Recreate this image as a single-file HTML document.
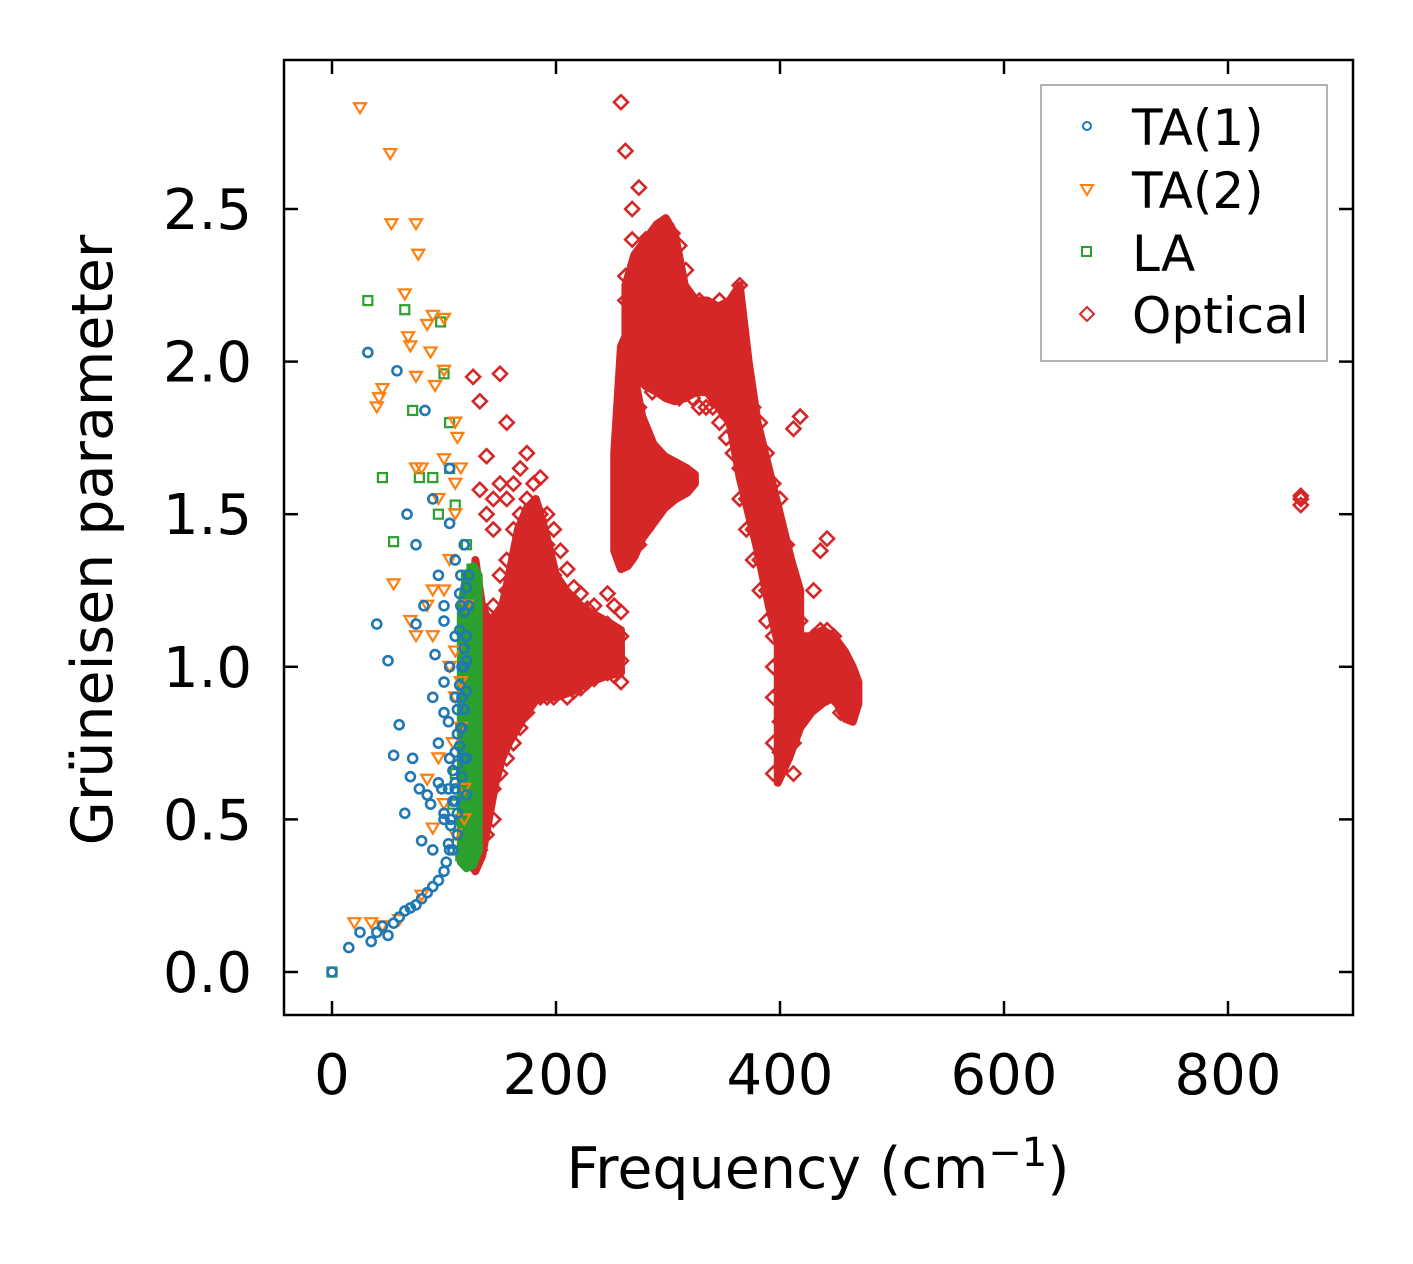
<!DOCTYPE html>
<html><head><meta charset="utf-8">
<style>
html,body{margin:0;padding:0;background:#fff;}
svg{display:block;font-family:"DejaVu Sans","Liberation Sans",sans-serif;}
</style></head>
<body>
<svg id="chart" width="1413" height="1264" viewBox="0 0 1413 1264" xmlns="http://www.w3.org/2000/svg">
<rect width="1413" height="1264" fill="#fff"/>
<g id="marks"></g>
<rect x="284" y="60" width="1069" height="955" fill="none" stroke="#000" stroke-width="2.5"/>
<g id="ticks"></g>
<text x="818" y="1188" font-size="57" text-anchor="middle">Frequency (cm<tspan dy="-22" font-size="40">−1</tspan><tspan dy="22">)</tspan></text>
<text transform="translate(112,540) rotate(-90)" font-size="57" text-anchor="middle">Grüneisen parameter</text>
<g>
<rect x="1041" y="85" width="286" height="276" fill="#fff" stroke="#999" stroke-width="1.5"/>
<circle cx="1087" cy="126" r="4" fill="none" stroke="#1f77b4" stroke-width="2"/>
<text x="1132" y="145" font-size="50">TA(1)</text>
<path d="M1081,185 L1093,185 L1087,195 Z" fill="none" stroke="#ff7f0e" stroke-width="2"/>
<text x="1132" y="208" font-size="50">TA(2)</text>
<rect x="1082" y="247" width="9" height="9" fill="none" stroke="#2ca02c" stroke-width="2"/>
<text x="1132" y="271" font-size="50">LA</text>
<path d="M1087,307 L1094,314 L1087,321 L1080,314 Z" fill="none" stroke="#d62728" stroke-width="2"/>
<text x="1132" y="333" font-size="50">Optical</text>
</g>
</svg>
<script>
const xTicks=[0,200,400,600,800];
const yTicks=[0,0.5,1.0,1.5,2.0,2.5];
const yTickLabels=["0.0","0.5","1.0","1.5","2.0","2.5"];
const ta1F=[0,15,25,35,40,45,50,55,60,65,70,75,80,85,90,95,100,105,32,58,83,40,50,60,55,70,72,65,80,85,78,90,88,95,100,95,90,92,82,75,75,67,90,95,100,105,105,110,110,105,100,105,110,110,115,115,115,118,118,120,120,112,100,100,
  102,104,106,108,110,112,114,116,118,120,104,108,112,116,120,106,110,114,118,122,108,112,116,120,110,114,118,122,112,116,120,114,118,100,98,104];
const ta1G=[0,0.08,0.13,0.1,0.13,0.15,0.12,0.16,0.18,0.2,0.21,0.22,0.24,0.26,0.28,0.3,0.33,0.4,2.03,1.97,1.84,1.14,1.02,0.81,0.71,0.64,0.7,0.52,0.43,0.58,0.6,0.4,0.55,0.62,0.5,0.75,0.9,1.04,1.2,1.14,1.4,1.5,1.55,1.3,1.2,1.47,1.65,1.35,1.1,1.0,0.85,0.7,0.6,0.9,1.3,1.2,0.8,1.4,1.0,1.1,0.7,0.45,0.95,1.15,
  0.36,0.42,0.5,0.56,0.62,0.68,0.74,0.8,0.86,0.92,0.6,0.66,0.78,0.9,1.02,0.48,0.56,0.94,1.06,1.2,0.4,0.86,1.0,1.26,0.72,1.12,1.18,1.3,0.52,0.64,0.58,1.24,0.7,0.52,0.6,0.82];
const ta2F=[25,52,53,75,77,65,68,85,90,100,88,70,75,45,40,42,100,92,110,112,100,80,75,110,95,110,55,70,75,90,85,90,100,105,110,95,85,90,100,110,118,20,35,45,60,80,115,115,105,110,115,120,108,118];
const ta2G=[2.83,2.68,2.45,2.45,2.35,2.22,2.08,2.12,2.15,2.14,2.03,2.05,1.95,1.91,1.85,1.88,1.97,1.92,1.8,1.75,1.68,1.65,1.65,1.6,1.55,1.5,1.27,1.15,1.1,1.1,1.2,1.25,1.25,1.0,0.9,0.7,0.63,0.47,0.55,0.45,0.5,0.16,0.16,0.15,0.17,0.25,0.8,1.65,1.35,1.05,0.95,1.2,0.75,0.6];
const laF=[32,65,97,100,72,105,45,78,90,105,55,95,110,120,120,125,125,120,118,120,118,120,118,120,115,112,108,110,0,115,122,125];
const laG=[2.2,2.17,2.13,1.96,1.84,1.8,1.62,1.62,1.62,1.65,1.41,1.5,1.53,1.4,1.3,1.32,1.25,1.2,1.1,1.0,0.9,0.8,0.7,0.6,0.5,0.42,0.55,0.65,0,0.38,0.95,1.15];
// dense LA region
const laBandF=[115,120,126,131];
const laBandLo=[0.36,0.34,0.35,0.4];
const laBandHi=[1.2,1.3,1.33,1.3];
// dense optical regions (frequency, lower and upper bounds)
const band1F=[128,134,140,146,152,158,166,174,182,190,200,215,230,245,258];
const band1Lo=[0.33,0.38,0.5,0.62,0.7,0.75,0.8,0.85,0.89,0.9,0.9,0.92,0.95,0.97,0.98];
const band1Hi=[1.35,1.2,1.15,1.17,1.2,1.3,1.45,1.52,1.55,1.45,1.3,1.22,1.18,1.15,1.12];
const band2F=[252,258,264,270,277,287,297,307,317,324];
const band2Lo=[1.38,1.32,1.33,1.36,1.42,1.47,1.52,1.55,1.57,1.6];
const band2Hi=[1.7,2.05,2.1,1.95,1.82,1.73,1.69,1.67,1.65,1.63];
const band3F=[262,270,280,290,298,306,315,325,335,345,355,364,372,380,390,400,410,418];
const band3Lo=[2.0,1.95,1.92,1.9,1.88,1.87,1.88,1.9,1.9,1.85,1.8,1.62,1.5,1.38,1.2,1.05,0.95,0.95];
const band3Hi=[2.25,2.35,2.4,2.45,2.47,2.42,2.25,2.2,2.2,2.18,2.2,2.25,2.0,1.8,1.65,1.5,1.35,1.25];
const band4F=[398,408,418,428,438,448,458,465,470];
const band4Lo=[0.62,0.7,0.8,0.85,0.88,0.9,0.83,0.82,0.88];
const band4Hi=[1.1,1.12,1.1,1.1,1.12,1.1,1.05,1.0,0.95];
const optCols=[
[120,[0.4,0.5,0.6,0.7,0.8,0.9,1.0,1.1]],
[126,[0.35,0.45,0.55,0.65,0.75,0.85,0.95,1.05,1.15,1.25,1.95]],
[132,[0.4,0.5,0.6,0.7,0.8,0.9,1.0,1.1,1.2,1.87,1.58]],
[138,[0.45,0.55,0.65,0.75,0.85,0.95,1.05,1.15,1.5,1.69]],
[144,[0.5,0.6,0.7,0.8,0.9,1.0,1.1,1.2,1.45,1.55]],
[150,[0.65,0.75,0.85,0.95,1.05,1.15,1.3,1.6,1.96]],
[156,[0.7,0.8,0.9,1.0,1.1,1.25,1.35,1.55,1.8]],
[162,[0.75,0.85,0.95,1.05,1.15,1.3,1.45,1.6]],
[168,[0.8,0.9,1.0,1.1,1.2,1.35,1.5,1.65]],
[174,[0.85,0.95,1.05,1.15,1.25,1.4,1.55,1.7]],
[180,[0.9,1.0,1.1,1.2,1.3,1.45,1.6]],
[186,[0.9,0.95,1.05,1.15,1.25,1.35,1.5,1.62]],
[192,[0.9,1.0,1.1,1.2,1.3,1.4,1.5]],
[198,[0.9,1.0,1.1,1.2,1.3,1.45]],
[204,[0.92,1.0,1.08,1.16,1.25,1.38]],
[210,[0.9,0.98,1.06,1.14,1.22,1.32]],
[216,[0.92,1.0,1.08,1.16,1.26]],
[222,[0.93,1.01,1.09,1.17,1.24]],
[228,[0.95,1.03,1.11,1.19]],
[234,[0.96,1.04,1.12,1.2]],
[240,[0.98,1.06,1.14]],
[246,[0.98,1.06,1.14,1.24]],
[252,[0.97,1.04,1.12,1.2]],
[258,[0.95,1.02,1.1,1.18,2.85,1.6,1.7,1.5]],
[262,[1.35,1.45,1.55,1.65,1.75,2.69,2.28,2.2]],
[268,[1.38,1.48,1.58,1.68,1.78,1.9,2.0,2.1,2.5,2.4]],
[274,[1.4,1.5,1.6,1.7,1.85,1.95,2.05,2.15,2.25,2.35,2.57]],
[280,[1.45,1.55,1.65,1.75,2.1,2.2,2.3,2.4]],
[286,[1.5,1.6,1.9,2.05,2.15,2.25,2.35]],
[292,[1.55,1.65,2.0,2.1,2.2,2.3,2.4]],
[298,[1.55,1.65,1.95,2.05,2.15,2.25,2.35,2.45]],
[304,[1.6,1.9,2.0,2.1,2.2,2.3,2.42]],
[310,[1.62,1.88,1.98,2.08,2.18,2.28,2.38]],
[316,[1.9,2.0,2.1,2.2,2.3]],
[322,[1.88,1.98,2.08,2.18]],
[328,[1.85,1.95,2.05,2.15,2.2]],
[334,[1.85,1.95,2.05,2.15]],
[340,[1.85,1.95,2.05,2.15]],
[346,[1.8,1.9,2.0,2.1,2.2]],
[352,[1.75,1.85,1.95,2.05,2.15]],
[358,[1.7,1.8,1.9,2.0,2.1,2.2]],
[364,[1.55,1.65,1.75,1.85,1.95,2.25]],
[370,[1.45,1.55,1.65,1.75,1.85,1.95]],
[376,[1.35,1.45,1.55,1.65,1.75,1.85]],
[382,[1.25,1.35,1.45,1.55,1.65,1.8]],
[388,[1.15,1.25,1.35,1.45,1.55,1.7]],
[394,[0.65,0.75,0.9,1.0,1.1,1.2,1.3,1.4,1.5,1.6]],
[400,[0.72,0.82,0.92,1.02,1.12,1.22,1.32,1.42,1.55]],
[406,[0.8,0.9,1.0,1.1,1.2,1.3,1.4]],
[412,[0.65,0.75,0.85,0.95,1.05,1.15,1.25,1.78]],
[418,[0.85,0.95,1.05,1.15,1.82]],
[424,[0.88,0.98,1.08]],
[430,[0.9,1.0,1.1,1.25]],
[436,[0.92,1.02,1.12,1.38]],
[442,[0.92,1.02,1.12,1.42]],
[448,[0.9,1.0,1.1]],
[454,[0.85,0.95,1.05]],
[458,[0.85,0.95]],
[865,[1.53,1.55,1.56]]
];
const NS="http://www.w3.org/2000/svg";
function xs(v){return 332+v*1.12;}
function ys(v){return 972-v*305.2;}
const marks=document.getElementById('marks');
const ticks=document.getElementById('ticks');
function mk(tag,attrs){const e=document.createElementNS(NS,tag);for(const k in attrs)e.setAttribute(k,attrs[k]);return e;}
xTicks.forEach(function(t){
  const x=xs(t);
  const a=mk('line',{x1:x,y1:1015,x2:x,y2:1001,stroke:'#000','stroke-width':2.5});
  
  
  ticks.appendChild(a);
  const b=mk('line',{x1:x,y1:60,x2:x,y2:74,stroke:'#000','stroke-width':2.5});
  
  
  ticks.appendChild(b);
  const l=mk('text',{x:x,y:1094,'font-size':56,'text-anchor':'middle'});
  
  
  l.textContent=String(t);
  ticks.appendChild(l);
});
yTicks.forEach(function(t,i){
  const y=ys(t);
  const a=mk('line',{x1:284,y1:y,x2:298,y2:y,stroke:'#000','stroke-width':2.5});
  
  
  ticks.appendChild(a);
  const b=mk('line',{x1:1339,y1:y,x2:1353,y2:y,stroke:'#000','stroke-width':2.5});
  
  
  ticks.appendChild(b);
  const l=mk('text',{x:252,y:y+20,'font-size':56,'text-anchor':'end'});
  
  
  l.textContent=yTickLabels[i];
  ticks.appendChild(l);
});
function drawBand(F,Lo,Hi,name,color){
  let d='';
  for(let i=0;i<F.length;i++) d+=(i?'L':'M')+xs(F[i])+','+ys(Hi[i]);
  for(let i=F.length-1;i>=0;i--) d+='L'+xs(F[i])+','+ys(Lo[i]);
  d+='Z';
  const p=mk('path',{d:d,fill:color,stroke:color,'stroke-width':8,'stroke-linejoin':'round'});
  
  
  marks.appendChild(p);
}
drawBand(band1F,band1Lo,band1Hi,'optical-dense-region-low','#d62728');
drawBand(band2F,band2Lo,band2Hi,'optical-dense-region-rise','#d62728');
drawBand(band3F,band3Lo,band3Hi,'optical-dense-region-peak','#d62728');
drawBand(band4F,band4Lo,band4Hi,'optical-dense-region-tail','#d62728');
optCols.forEach(function(col){
  col[1].forEach(function(g){
    const x=xs(col[0]),y=ys(g);
    const p=mk('path',{d:'M'+x+','+(y-7)+' L'+(x+7)+','+y+' L'+x+','+(y+7)+' L'+(x-7)+','+y+' Z',fill:'none',stroke:'#d62728','stroke-width':2.6});
    
    
    marks.appendChild(p);
  });
});
drawBand(laBandF,laBandLo,laBandHi,'la-dense-region','#2ca02c');
for(let i=0;i<laF.length;i++){
  const r=mk('rect',{x:xs(laF[i])-4.5,y:ys(laG[i])-4.5,width:9,height:9,fill:'none',stroke:'#2ca02c','stroke-width':2.2});
  
  
  marks.appendChild(r);
}
for(let i=0;i<ta2F.length;i++){
  const x=xs(ta2F[i]),y=ys(ta2G[i]);
  const p=mk('path',{d:'M'+(x-6)+','+(y-5)+' L'+(x+6)+','+(y-5)+' L'+x+','+(y+5)+' Z',fill:'none',stroke:'#ff7f0e','stroke-width':2.2});
  
  
  marks.appendChild(p);
}
for(let i=0;i<ta1F.length;i++){
  const c=mk('circle',{cx:xs(ta1F[i]),cy:ys(ta1G[i]),r:4.5,fill:'none',stroke:'#1f77b4','stroke-width':2.6});
  
  
  marks.appendChild(c);
}
</script>
</body></html>
